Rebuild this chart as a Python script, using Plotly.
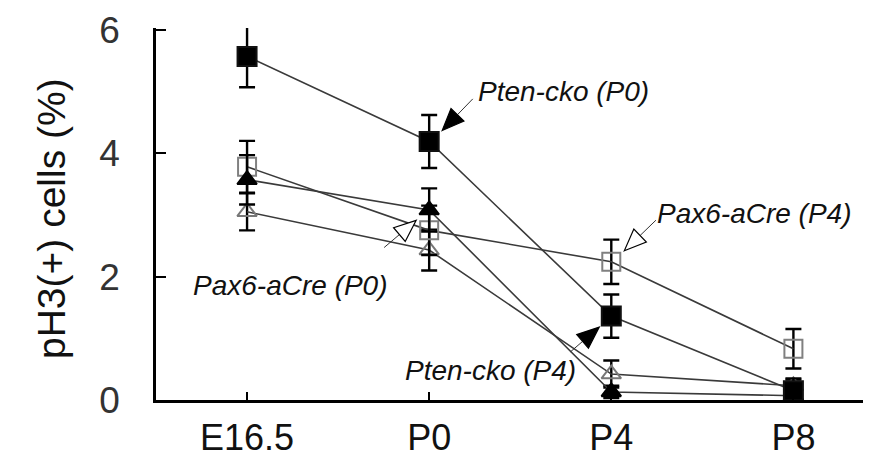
import plotly.graph_objects as go

# ---- data ----
categories = ["E16.5", "P0", "P4", "P8"]
pten_cko_vals = [5.57, 4.19, 1.36, 0.15]      # filled squares
pten_cko_err = [0.50, 0.43, 0.35, 0.20]
pax6_acre_vals = [3.78, 2.75, 2.24, 0.83]     # open squares
pax6_acre_err = [0.42, 0.40, 0.36, 0.32]
ctrl_filled_vals = [3.57, 3.08, 0.13, 0.07]   # filled triangles
ctrl_filled_err = [0.40, 0.35, 0.10, 0.05]
ctrl_open_vals = [3.05, 2.43, 0.42, 0.23]     # open triangles
ctrl_open_err = [0.30, 0.33, 0.22, 0.10]
y_ticks = [0, 2, 4, 6]
y_title = "pH3(+) cells (%)"

# ---- layout constants ----
W, H = 871, 458
ML, MR, MT, MB = 148, 0, 20, 66
XR = [-0.5, 3.47]
YR = [0, 6.03]
FONT = "Arial, Liberation Sans, Helvetica, sans-serif"
px_x = (W - ML - MR) / (XR[1] - XR[0])
px_y = (H - MT - MB) / (YR[1] - YR[0])

xs = list(range(len(categories)))

fig = go.Figure()

def add_series(name, vals, errs, symbol, fill, outline, size):
    fig.add_trace(go.Scatter(
        x=xs, y=vals, name=name, mode="lines+markers",
        line=dict(color="#3a3a3a", width=1.6),
        marker=dict(symbol=symbol, size=size, color=fill,
                    line=dict(color=outline, width=2)),
        error_y=dict(type="data", array=errs, visible=True,
                     color="#000000", thickness=2.4, width=8),
        showlegend=False,
    ))

add_series("control (open)", ctrl_open_vals, ctrl_open_err, "triangle-up-open", "#777777", "#777777", 17)
add_series("Pax6-aCre", pax6_acre_vals, pax6_acre_err, "square-open", "#808080", "#808080", 18)
add_series("control (filled)", ctrl_filled_vals, ctrl_filled_err, "triangle-up", "#000000", "#000000", 17)
add_series("Pten-cko", pten_cko_vals, pten_cko_err, "square", "#000000", "#111111", 19)

# ---- arrows (shaft + head) built from a target point and pixel offsets ----
def arrow(tx, ty, dx_px, dy_px, shaft_px, filled, head_len=22, head_half=9):
    # (dx_px, dy_px): direction from tip back toward the tail, in screen pixels (y down)
    n = (dx_px ** 2 + dy_px ** 2) ** 0.5
    ux, uy = dx_px / n, dy_px / n
    def to_data(px, py):
        return tx + px / px_x, ty - py / px_y
    bx, by = ux * head_len, uy * head_len
    p1 = to_data(bx - uy * head_half, by + ux * head_half)
    p2 = to_data(bx + uy * head_half, by - ux * head_half)
    tail = to_data(ux * (head_len + shaft_px), uy * (head_len + shaft_px))
    base = to_data(bx, by)
    fig.add_shape(type="line", x0=base[0], y0=base[1], x1=tail[0], y1=tail[1],
                  line=dict(color="#333333", width=1))
    path = f"M {tx} {ty} L {p1[0]} {p1[1]} L {p2[0]} {p2[1]} Z"
    fig.add_shape(type="path", path=path,
                  fillcolor="#000000" if filled else "#ffffff",
                  line=dict(color="#000000", width=1.2))

arrow(xs[1] + 13 / px_x, pten_cko_vals[1] + 11 / px_y, 30, -31, 22, True)
arrow(xs[2] + 13 / px_x, pax6_acre_vals[2] + 11 / px_y, 31, -30, 22, False)
arrow(xs[1] - 13 / px_x, pax6_acre_vals[1] + 10 / px_y, -33, 28, 20, False)
arrow(xs[2] - 12 / px_x, pten_cko_vals[2] - 11 / px_y, -28, 24, 16, True)

def label(text, left_px, cy_px):
    fig.add_annotation(
        x=XR[0] + (left_px - ML) / px_x, y=YR[1] - (cy_px - MT) / px_y,
        xref="x", yref="y", text=f"<i>{text}</i>", showarrow=False,
        xanchor="left", yanchor="middle",
        font=dict(family=FONT, size=28, color="#111111"),
    )

label("Pten-cko (P0)", 468, 83)
label("Pax6-aCre (P4)", 647, 205)
label("Pax6-aCre (P0)", 183, 277)
label("Pten-cko (P4)", 395, 362)

fig.add_annotation(
    x=(43 - ML) / (W - ML - MR), y=(H - MB - 210) / (H - MT - MB), xref="paper", yref="paper",
    text=y_title, textangle=-90, showarrow=False, xanchor="center", yanchor="middle",
    font=dict(family=FONT, size=39, color="#111111"),
)

fig.update_layout(
    width=W, height=H,
    margin=dict(l=ML, r=MR, t=MT, b=MB),
    paper_bgcolor="white", plot_bgcolor="white",
    font=dict(family=FONT, color="#111111"),
    xaxis=dict(range=XR, tickmode="array", tickvals=xs, ticktext=categories,
               showgrid=False, zeroline=False, showline=True, linecolor="#000000",
               linewidth=2.5, ticks="inside", ticklen=8, tickwidth=2, tickcolor="#000000",
               tickfont=dict(family=FONT, size=36, color="#111111"),
               ticklabelstandoff=4),
    yaxis=dict(range=YR, tickmode="array", tickvals=y_ticks,
               showgrid=False, zeroline=False, showline=True, linecolor="#000000",
               linewidth=2.5, ticks="inside", ticklen=10, tickwidth=2, tickcolor="#000000",
               tickfont=dict(family=FONT, size=37, color="#333333"),
               ticklabelstandoff=26),
)

fig.write_html("out.html")
